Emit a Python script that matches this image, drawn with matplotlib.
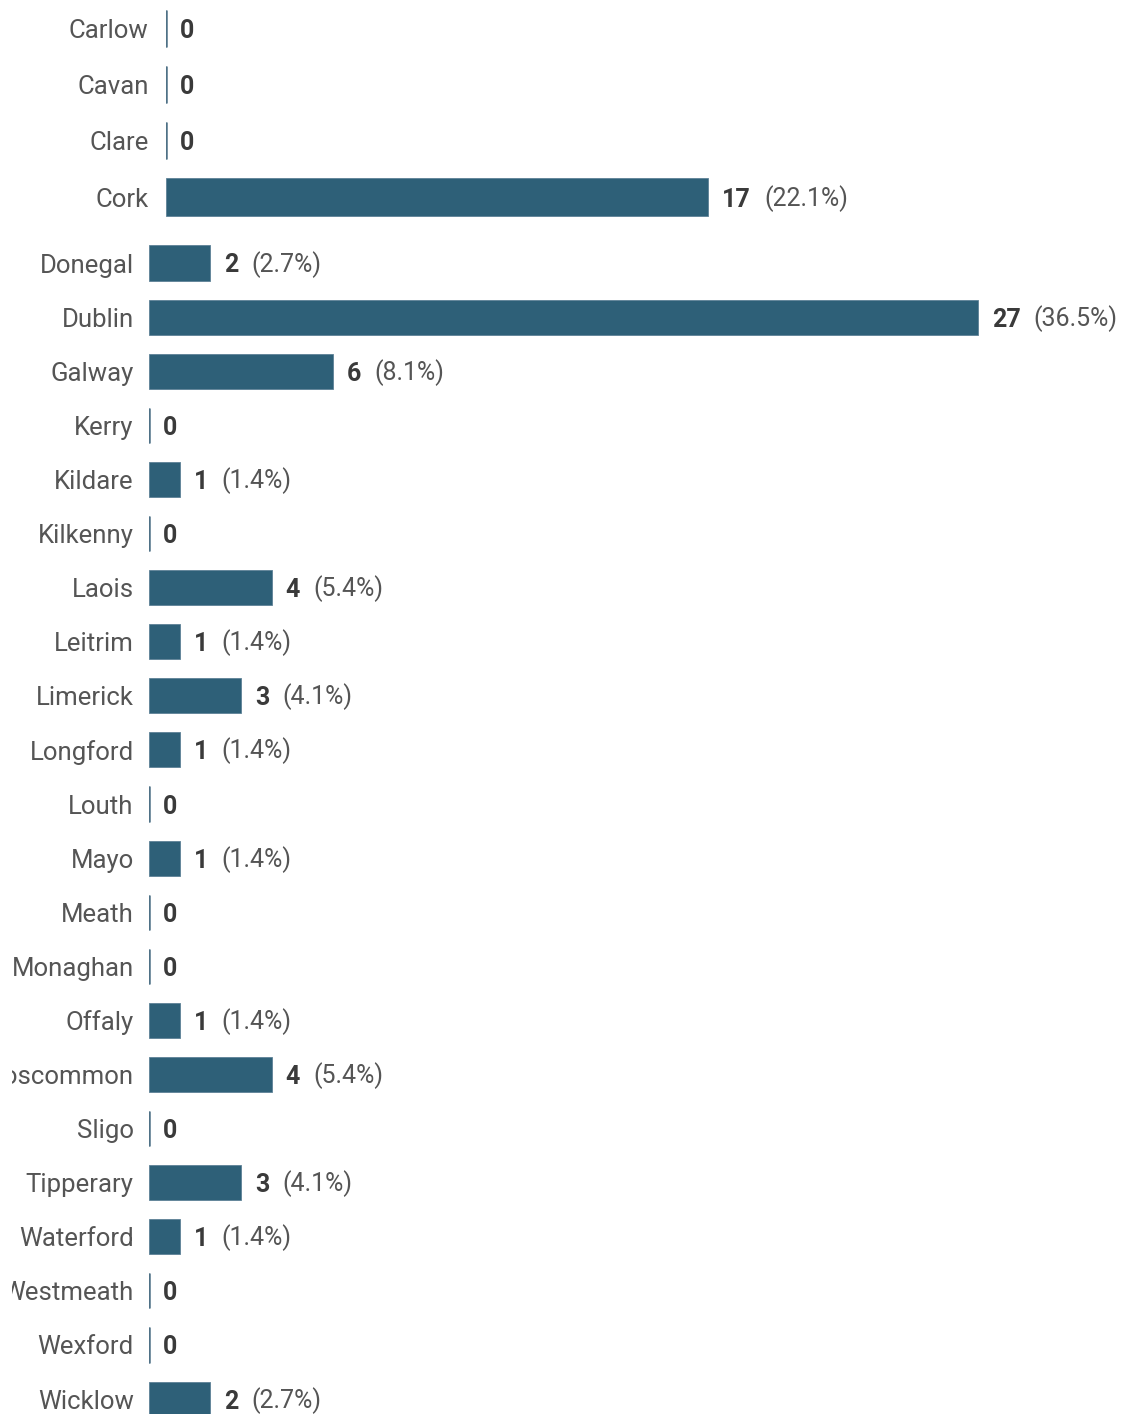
import matplotlib
matplotlib.use("Agg")
import matplotlib.pyplot as plt
from matplotlib.transforms import Bbox, TransformedBbox

plt.rcParams['font.family'] = ['Roboto', 'DejaVu Sans']

# first block (separate chart at top)
top_counties = ['Carlow', 'Cavan', 'Clare', 'Cork']
top_values = [0, 0, 0, 17]
top_pcts = ['', '', '', '22.1%']

# second block
counties = ['Donegal', 'Dublin', 'Galway', 'Kerry', 'Kildare', 'Kilkenny', 'Laois',
            'Leitrim', 'Limerick', 'Longford', 'Louth', 'Mayo', 'Meath', 'Monaghan',
            'Offaly', 'Roscommon', 'Sligo', 'Tipperary', 'Waterford', 'Westmeath',
            'Wexford', 'Wicklow']
values = [2, 27, 6, 0, 1, 0, 4, 1, 3, 1, 0, 1, 0, 0, 1, 4, 0, 3, 1, 0, 0, 2]
pcts = ['2.7%', '36.5%', '8.1%', '', '1.4%', '', '5.4%', '1.4%', '4.1%', '1.4%', '',
        '1.4%', '', '', '1.4%', '5.4%', '', '4.1%', '1.4%', '', '', '2.7%']

BAR = '#2e6078'
W, H = 1123, 1414
fig = plt.figure(figsize=(W / 100, H / 100), dpi=100)
# the original cuts long county names off at its left edge
label_clip = TransformedBbox(Bbox([[12 / W, 0], [1, 1]]), fig.transFigure)


def panel(rect_px, names, vals, pct, xmax, bar_h, pad):
    x0, y_top, w, h = rect_px
    ax = fig.add_axes([x0 / W, (H - y_top - h) / H, w / W, h / H])
    pos = list(range(len(names)))
    ax.barh(pos, vals, height=bar_h, color=BAR, edgecolor='#5d8196', linewidth=0.6)
    zero = [i for i, v in zip(pos, vals) if v == 0]
    ax.vlines([0] * len(zero), [i - bar_h / 2 for i in zero], [i + bar_h / 2 for i in zero],
              color='#4f7186', linewidth=1.8)
    ax.set_xlim(0, xmax)
    ax.set_ylim(len(names) - 0.5, -0.5)
    ax.set_yticks(pos)
    ax.set_yticklabels(names, fontsize=18.5, color='#555555')
    for lbl in ax.get_yticklabels():
        lbl.set_clip_box(label_clip)
        lbl.set_clip_on(True)
    ax.tick_params(axis='y', length=0, pad=pad)
    ax.set_xticks([])
    for s in ax.spines.values():
        s.set_visible(False)
    for i, v, p in zip(pos, vals, pct):
        t = ax.annotate(str(v), xy=(v, i), xytext=(14, 0), textcoords='offset pixels',
                        ha='left', va='center_baseline', fontsize=18, fontweight='bold',
                        color='#3a3a3a', annotation_clip=False)
        if p:
            ax.annotate('(' + p + ')', xy=(1, 0), xycoords=t, xytext=(13, 0),
                        textcoords='offset pixels', ha='left', va='bottom',
                        fontsize=18, color='#555555', annotation_clip=False)
    return ax


# top block: axis at x=166, 56.3 px per row, ~31.9 px per unit
panel((166, 0, 30 * 31.9, 4 * 56.3), top_counties, top_values, top_pcts, 30, 0.66, 12.5)
# bottom block: axis at x=149, 54.1 px per row, ~30.7 px per unit
panel((149, 263 - 27.05, 31 * 30.7, 22 * 54.1), counties, values, pcts, 31, 0.65, 11)

fig.savefig('out.png', dpi=100, facecolor='white')
